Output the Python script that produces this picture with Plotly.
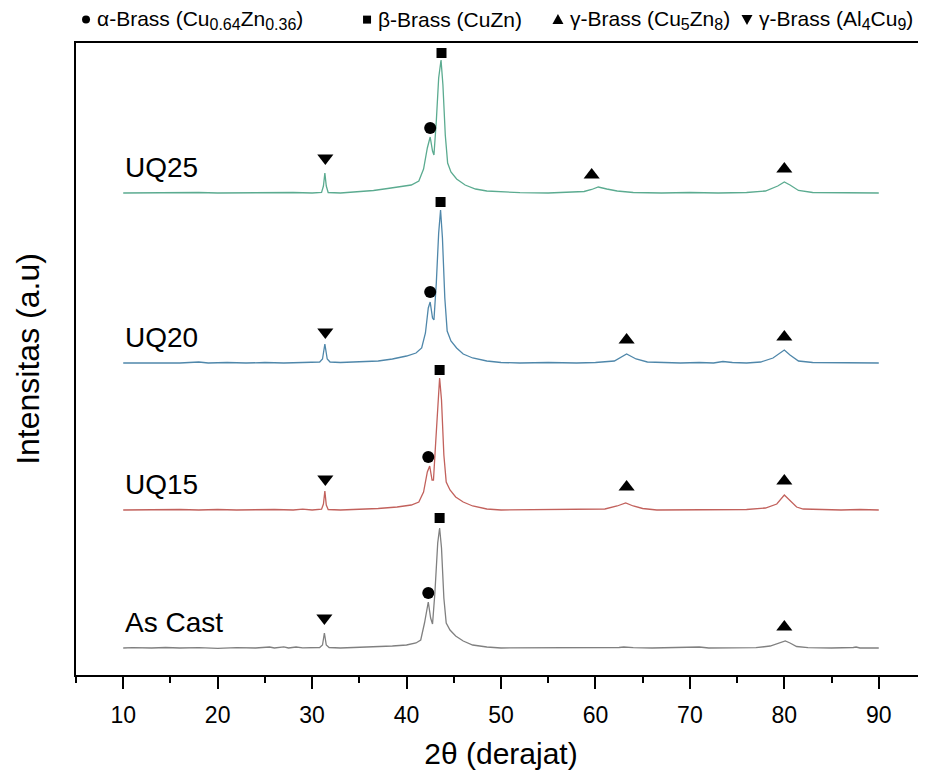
import plotly.graph_objects as go

# ---------------- data (2theta in degrees, intensity in a.u. above own baseline) ----------------
ascast_2theta = [10, 11, 13, 14.5, 16, 18, 20, 22, 24, 25.5, 26, 27, 27.5, 28.3, 29, 30, 30.8, 31.1, 31.3, 31.5, 31.8,
                 33, 35, 37, 38.5, 40, 41, 41.5, 41.9, 42.3, 42.55, 42.75, 43.0, 43.3, 43.5, 43.7, 43.95, 44.2, 44.6,
                 45.2, 46, 47, 48.5, 50, 53, 56, 60, 62.5, 63, 64, 66, 70, 71, 72, 75, 77, 78.5, 79.5, 80.1, 80.6,
                 81.3, 82.5, 85, 87.3, 87.6, 88, 90]
ascast_int = [0, 0.3, 0, 0.5, 0, 0.3, -0.3, 0.3, 0, 1, 0, 1.2, 0, 1, 0.2, 0.3, 0.5, 3, 15, 3, 0.5,
              0, 0.5, 1, 2, 3, 5, 8, 25, 46, 30, 24, 55, 105, 120, 100, 50, 25, 18,
              12, 7, 3, 1, 0, 0, 0.3, 0, 0.5, 1, 0.3, 0, 0.3, 1, 0, 0, 0.3, 2, 5, 7, 5,
              1.5, 0.3, 0, 0.5, 1, 0, 0]

uq15_2theta = [10, 12, 14, 16, 18, 20, 22, 24, 26, 28, 29, 30, 31, 31.2, 31.35, 31.5, 31.7, 33, 35, 37, 39, 40.5,
               41.3, 41.8, 42.2, 42.45, 42.7, 42.85, 43.1, 43.35, 43.5, 43.7, 43.95, 44.2, 44.6, 45.2, 46, 47, 48.5,
               50, 53, 56, 59, 61, 62.3, 63.2, 64, 65, 66.5, 70, 73, 76, 78, 79.2, 80, 80.6, 81.3, 82, 84, 86, 88, 90]
uq15_int = [0, 0.3, 0, 0.5, 0, 0.5, 0, 0.3, 0.5, 0, 0.8, 0, 0.8, 6, 19, 5, 0.5, 0, 0.5, 1.5, 3, 5,
            8, 18, 38, 44, 30, 30, 70, 115, 132, 110, 55, 28, 20, 13, 8, 4, 1,
            0, 0.3, 0, 0.5, 1, 4, 7, 4, 1.5, 0, 0.3, 0, 0.5, 2, 6, 15, 9, 3, 1, 0.5, 0, 0.5, 0]

uq20_2theta = [10, 12, 14, 16, 18, 19, 21, 23, 25, 27, 29, 30.8, 31.1, 31.35, 31.6, 31.9, 33, 35, 37, 38.5, 40, 41,
               41.6, 42.0, 42.3, 42.5, 42.75, 42.9, 43.15, 43.4, 43.6, 43.8, 44.05, 44.3, 44.7, 45.3, 46, 47, 48.5,
               50, 52, 55, 58, 60, 62, 63.3, 64.3, 65.5, 67, 69, 71, 72.5, 73.5, 74.5, 76, 77.5, 78.8, 80, 80.6,
               81.5, 83, 85, 87, 88, 90]
uq20_int = [0, 0, 0.5, 0, 1, 0, 0.5, 0, 0.5, 0, 0.5, 1, 4, 19, 4, 1, 0.5, 1, 2, 4, 7, 10,
            15, 30, 55, 61, 45, 43, 80, 130, 153, 125, 65, 32, 22, 15, 9, 5, 2,
            0.5, 0, 0.5, 0, 0.5, 2, 9, 4, 1, 0.5, 0, 0.5, 0, 1.5, 0.5, 0, 1, 5, 13, 8,
            2, 0.5, 0.5, 0, 0.5, 0]

uq25_2theta = [10, 13, 15, 18, 20, 23, 26, 28, 30, 31.0, 31.2, 31.35, 31.5, 31.7, 33, 35, 36.5, 38, 39.5, 40.5,
               41.3, 41.8, 42.2, 42.5, 42.75, 42.9, 43.15, 43.4, 43.65, 43.85, 44.1, 44.35, 44.7, 45.3, 46.2, 47.3,
               48.5, 50, 52, 55, 57.5, 58.8, 59.6, 60.3, 61.2, 62.3, 64, 67, 70, 73, 76, 78, 79.3, 80, 80.6, 81.5, 83,
               86, 88.5, 90]
uq25_int = [0, 0.3, 0, 0.5, 0, 0.3, 0, 0.5, 0, 0.5, 7, 20, 7, 0.5, 0, 1, 2.5, 4.5, 6.5, 8,
            12, 24, 45, 56, 42, 38, 72, 115, 133, 108, 58, 30, 21, 14, 8, 4,
            2, 1, 0.3, 0, 0.5, 1.5, 3.5, 6, 4, 2, 0.5, 0, 0.5, 0, 0.5, 2, 7, 11, 8, 2.5, 0.5,
            0.5, 0, 0]

sample_names = ["As Cast", "UQ15", "UQ20", "UQ25"]
sample_offsets = [27, 165, 312, 482]          # vertical stacking offsets (a.u.)
sample_colors = ["#808080", "#c2615c", "#4f87aa", "#5bab90"]

# peak markers: (2theta, absolute stacked intensity)
alpha_2theta = [42.3, 42.3, 42.5, 42.5]
alpha_int = [82, 218, 383, 547]
beta_2theta = [43.5, 43.5, 43.6, 43.7]
beta_int = [157, 305, 473, 622]
gamma_cuzn_2theta = [80.0, 63.3, 80.0, 63.3, 80.0, 59.6, 80.0]
gamma_cuzn_int = [48, 188, 194, 335, 338, 500, 506]
gamma_alcu_2theta = [31.3, 31.4, 31.4, 31.4]
gamma_alcu_int = [57, 196, 343, 517]

phase_names = ["α-Brass", "β-Brass", "γ-Brass", "γ-Brass"]
phase_formulas = [[("Cu", "0.64"), ("Zn", "0.36")], [("CuZn", "")],
                  [("Cu", "5"), ("Zn", "8")], [("Al", "4"), ("Cu", "9")]]

x_ticks = [10, 20, 30, 40, 50, 60, 70, 80, 90]
x_minor_ticks = [5, 15, 25, 35, 45, 55, 65, 75, 85, 95]

# ---------------- figure ----------------
FONT = "Liberation Sans, Arial, sans-serif"
KEY_FONT = 21
SUB_FONT = 16


def formula_html(parts):
    out = ""
    for el, sub in parts:
        out += el
        if sub:
            out += f'<sub><span style="font-size:{SUB_FONT}px">{sub}</span></sub>'
    return out


phase_labels = [f"{n} ({formula_html(f)})" for n, f in zip(phase_names, phase_formulas)]

fig = go.Figure()

series = [(ascast_2theta, ascast_int), (uq15_2theta, uq15_int), (uq20_2theta, uq20_int), (uq25_2theta, uq25_int)]
for (xs, ys), name, off, col in zip(series, sample_names, sample_offsets, sample_colors):
    fig.add_trace(go.Scatter(x=xs, y=[v + off for v in ys], mode="lines", name=name,
                             line=dict(color=col, width=1.3), showlegend=False))

marker_sets = [
    (alpha_2theta, alpha_int, "circle", 12),
    (beta_2theta, beta_int, "square", 10),
    (gamma_cuzn_2theta, gamma_cuzn_int, "triangle-up", 14),
    (gamma_alcu_2theta, gamma_alcu_int, "triangle-down", 14),
]
for (xs, ys, sym, sz), label in zip(marker_sets, phase_labels):
    fig.add_trace(go.Scatter(x=xs, y=ys, mode="markers", name=label, showlegend=False,
                             marker=dict(symbol=sym, size=sz, color="black", line=dict(width=0))))

# sample names next to each pattern
for name, off in zip(sample_names, sample_offsets):
    fig.add_annotation(x=10, y=off + 26, xref="x", yref="y", text=name, showarrow=False,
                       xanchor="left", yanchor="middle", font=dict(family=FONT, size=28, color="black"))

# key row above the plot: symbol (shape) + phase name (text)
KEY_Y = 1.037
key_sym_x = [0.0118, 0.3424, 0.5670, 0.7894]
key_text_x = [0.0224, 0.3529, 0.5788, 0.8012]
sym_common = dict(xref="paper", yref="paper", xsizemode="pixel", ysizemode="pixel",
                  yanchor=KEY_Y, fillcolor="black", line=dict(width=0), layer="above")
fig.add_shape(type="circle", xanchor=key_sym_x[0], x0=-4, x1=4, y0=-4, y1=4, **sym_common)
fig.add_shape(type="rect", xanchor=key_sym_x[1], x0=-4, x1=4, y0=-4, y1=4, **sym_common)
fig.add_shape(type="path", xanchor=key_sym_x[2], path="M -5.5,-4.5 L 5.5,-4.5 L 0,5.5 Z", **sym_common)
fig.add_shape(type="path", xanchor=key_sym_x[3], path="M -5.5,4.5 L 5.5,4.5 L 0,-5.5 Z", **sym_common)
for tx, label in zip(key_text_x, phase_labels):
    fig.add_annotation(x=tx, y=KEY_Y, xref="paper", yref="paper", showarrow=False,
                       xanchor="left", yanchor="middle", text=label,
                       font=dict(family=FONT, size=KEY_FONT, color="black"))

fig.update_layout(
    width=918, height=770,
    margin=dict(l=68, r=0, t=35, b=103),
    paper_bgcolor="white", plot_bgcolor="white",
    font=dict(family=FONT, color="black"),
    showlegend=False,
)
fig.update_xaxes(range=[5, 95], tickvals=x_ticks, ticks="outside", ticklen=12, tickwidth=1.5,
                 tickcolor="black", showline=True, linewidth=2, linecolor="black", mirror=True,
                 showgrid=False, zeroline=False, ticklabelstandoff=6,
                 tickfont=dict(family=FONT, size=23, color="black"),
                 minor=dict(tickvals=x_minor_ticks, ticks="outside",
                            ticklen=6, tickwidth=1.5, tickcolor="black"),
                 title=dict(text="2θ (derajat)", font=dict(family=FONT, size=30, color="black"), standoff=16))
fig.update_yaxes(range=[0, 632], showticklabels=False, ticks="", showline=True, linewidth=2,
                 linecolor="black", showgrid=False, zeroline=False,
                 title=dict(text="Intensitas (a.u)", font=dict(family=FONT, size=32, color="black"), standoff=25))

fig.write_html("out.html")
